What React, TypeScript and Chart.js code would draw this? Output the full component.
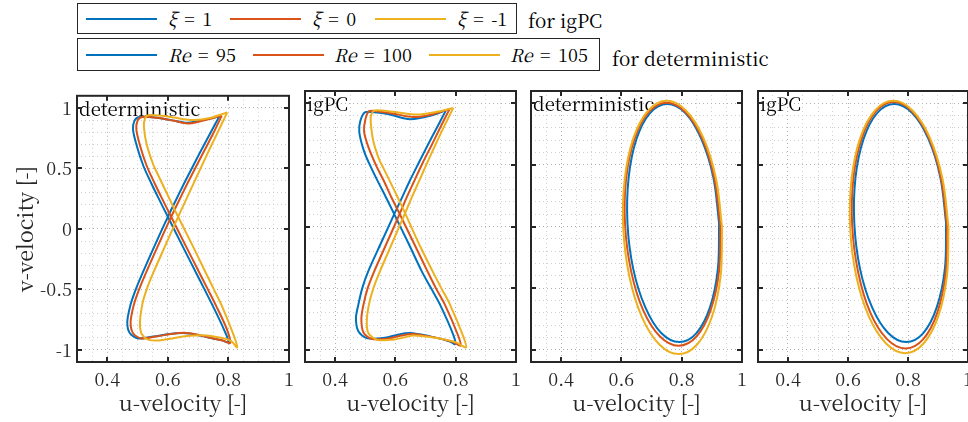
import React, { useEffect, useRef } from 'react';
import { Chart, registerables } from 'chart.js';

Chart.register(...registerables);

// ---------- axes ----------
const X_MIN = 0.3;
const X_MAX = 1;
const Y_MIN = -1.1;
const Y_MAX = 1.1;
const X_MINOR_STEP = 0.05;
const Y_MINOR_STEP = 0.1;
const X_TICKS = [0.4, 0.6, 0.8, 1];
const Y_TICKS = [-1, -0.5, 0, 0.5, 1];

const X_TITLE = 'u-velocity [-]';
const Y_TITLE = 'v-velocity [-]';
const PANEL_LABELS = ['deterministic', 'igPC', 'deterministic', 'igPC'];

const COLORS = ['#0072BD', '#D95319', '#EDB120'];
const XI_LABELS = ['1', '0', '-1'];
const RE_LABELS = ['95', '100', '105'];

// ---------- panel 1 : deterministic, figure-eight ----------
const det8_re95_u = [0.770,0.740,0.710,0.681,0.653,0.626,0.600,0.558,0.517,0.491,0.476,0.466,0.474,0.502,0.552,0.605,0.651,0.690,0.735,0.775,0.800,0.785,0.748,0.721,0.693,0.646,0.600,0.572,0.546,0.519,0.497,0.485,0.490,0.506,0.560,0.615,0.662,0.700,0.740,0.770];
const det8_re95_v = [0.930,0.790,0.650,0.510,0.373,0.235,0.100,-0.130,-0.362,-0.520,-0.634,-0.770,-0.860,-0.905,-0.890,-0.868,-0.860,-0.872,-0.898,-0.918,-0.935,-0.830,-0.634,-0.500,-0.362,-0.130,0.100,0.240,0.373,0.522,0.690,0.820,0.895,0.925,0.920,0.897,0.877,0.890,0.912,0.930];
const det8_re100_u = [0.778,0.750,0.721,0.692,0.664,0.637,0.611,0.569,0.528,0.502,0.487,0.477,0.485,0.512,0.560,0.610,0.655,0.695,0.740,0.782,0.806,0.795,0.759,0.732,0.704,0.657,0.611,0.583,0.557,0.530,0.508,0.496,0.500,0.515,0.565,0.620,0.665,0.705,0.748,0.778];
const det8_re100_v = [0.937,0.790,0.650,0.510,0.373,0.235,0.100,-0.130,-0.362,-0.520,-0.634,-0.770,-0.862,-0.905,-0.890,-0.868,-0.858,-0.872,-0.900,-0.922,-0.942,-0.830,-0.634,-0.500,-0.362,-0.130,0.100,0.240,0.373,0.522,0.690,0.820,0.895,0.925,0.918,0.893,0.872,0.888,0.915,0.937];
const det8_re105_u = [0.796,0.765,0.736,0.708,0.682,0.658,0.634,0.593,0.552,0.530,0.516,0.508,0.513,0.535,0.570,0.615,0.662,0.728,0.775,0.808,0.829,0.816,0.778,0.752,0.725,0.680,0.634,0.609,0.585,0.567,0.552,0.530,0.521,0.524,0.535,0.580,0.620,0.684,0.739,0.796];
const det8_re105_v = [0.963,0.800,0.650,0.500,0.360,0.230,0.100,-0.130,-0.362,-0.500,-0.620,-0.770,-0.865,-0.915,-0.922,-0.905,-0.886,-0.880,-0.900,-0.925,-0.980,-0.870,-0.634,-0.500,-0.362,-0.130,0.100,0.230,0.355,0.450,0.530,0.700,0.840,0.910,0.940,0.935,0.920,0.900,0.917,0.963];

// ---------- panel 2 : igPC, figure-eight ----------
const pc8_xi1_u = [0.768,0.737,0.707,0.677,0.648,0.621,0.596,0.553,0.510,0.490,0.477,0.469,0.477,0.505,0.560,0.605,0.648,0.715,0.781,0.798,0.792,0.748,0.718,0.687,0.642,0.596,0.568,0.545,0.521,0.497,0.480,0.484,0.500,0.540,0.582,0.648,0.715,0.768];
const pc8_xi1_v = [0.945,0.800,0.660,0.515,0.373,0.230,0.100,-0.130,-0.362,-0.500,-0.634,-0.743,-0.851,-0.906,-0.906,-0.880,-0.865,-0.892,-0.933,-0.955,-0.879,-0.634,-0.500,-0.362,-0.130,0.100,0.240,0.350,0.470,0.604,0.767,0.860,0.928,0.925,0.909,0.871,0.898,0.945];
const pc8_xi0_u = [0.780,0.750,0.721,0.691,0.663,0.637,0.614,0.572,0.530,0.508,0.494,0.487,0.494,0.520,0.575,0.620,0.655,0.725,0.792,0.816,0.808,0.764,0.734,0.706,0.660,0.614,0.587,0.561,0.537,0.511,0.496,0.500,0.513,0.555,0.590,0.660,0.725,0.780];
const pc8_xi0_v = [0.955,0.810,0.665,0.520,0.373,0.235,0.102,-0.130,-0.362,-0.500,-0.634,-0.750,-0.860,-0.912,-0.910,-0.885,-0.873,-0.898,-0.938,-0.968,-0.885,-0.634,-0.500,-0.362,-0.130,0.102,0.235,0.373,0.490,0.640,0.770,0.865,0.936,0.930,0.918,0.888,0.912,0.955];
const pc8_xim1_u = [0.792,0.762,0.734,0.706,0.679,0.655,0.632,0.590,0.549,0.527,0.512,0.505,0.510,0.538,0.593,0.630,0.659,0.737,0.803,0.834,0.825,0.781,0.752,0.723,0.676,0.632,0.605,0.583,0.561,0.545,0.526,0.518,0.519,0.530,0.593,0.671,0.737,0.792];
const pc8_xim1_v = [0.963,0.815,0.670,0.520,0.373,0.240,0.109,-0.130,-0.362,-0.500,-0.634,-0.770,-0.865,-0.919,-0.919,-0.900,-0.884,-0.906,-0.943,-0.982,-0.892,-0.634,-0.500,-0.362,-0.130,0.109,0.250,0.360,0.470,0.550,0.700,0.849,0.900,0.942,0.931,0.909,0.931,0.963];

// ---------- panel 3 : deterministic, ellipse ----------
const detE_re95_u = [0.924,0.905,0.865,0.812,0.752,0.695,0.650,0.624,0.620,0.639,0.679,0.732,0.792,0.849,0.894,0.920,0.924];
const detE_re95_v = [0.028,0.398,0.711,0.921,0.994,0.921,0.711,0.398,0.028,-0.342,-0.655,-0.865,-0.938,-0.865,-0.655,-0.342,0.028];
const detE_re100_u = [0.928,0.908,0.868,0.812,0.750,0.691,0.644,0.616,0.612,0.632,0.672,0.728,0.790,0.849,0.896,0.924,0.928];
const detE_re100_v = [0.018,0.396,0.715,0.929,1.004,0.929,0.715,0.396,0.018,-0.360,-0.679,-0.893,-0.968,-0.893,-0.679,-0.360,0.018];
const detE_re105_u = [0.934,0.914,0.872,0.814,0.750,0.689,0.640,0.611,0.606,0.626,0.668,0.726,0.790,0.851,0.900,0.929,0.934];
const detE_re105_v = [-0.008,0.386,0.719,0.942,1.020,0.942,0.719,0.386,-0.008,-0.402,-0.735,-0.958,-1.036,-0.958,-0.735,-0.402,-0.008];

// ---------- panel 4 : igPC, ellipse ----------
const pcE_xi1_u = [0.927,0.908,0.868,0.814,0.754,0.697,0.652,0.625,0.621,0.640,0.680,0.734,0.794,0.851,0.896,0.923,0.927];
const pcE_xi1_v = [0.028,0.398,0.711,0.921,0.994,0.921,0.711,0.398,0.028,-0.342,-0.655,-0.865,-0.938,-0.865,-0.655,-0.342,0.028];
const pcE_xi0_u = [0.930,0.910,0.870,0.814,0.752,0.693,0.646,0.618,0.614,0.634,0.674,0.730,0.792,0.851,0.898,0.926,0.930];
const pcE_xi0_v = [0.010,0.393,0.717,0.934,1.010,0.934,0.717,0.393,0.010,-0.373,-0.697,-0.914,-0.990,-0.914,-0.697,-0.373,0.010];
const pcE_xim1_u = [0.935,0.915,0.873,0.815,0.751,0.690,0.641,0.612,0.607,0.627,0.669,0.727,0.791,0.852,0.901,0.930,0.935];
const pcE_xim1_v = [-0.004,0.388,0.720,0.942,1.020,0.942,0.720,0.388,-0.004,-0.396,-0.728,-0.950,-1.028,-0.950,-0.728,-0.396,-0.004];

const FONT = '"Noto Serif CJK SC", "Liberation Serif", serif';
const AXIS_COLOR = '#262626';

type Curve = { u: number[]; v: number[]; color: string; label: string; order: number };

const isOn = (val: number, list: number[]) => list.some((m) => Math.abs(m - val) < 1e-6);

interface PanelProps {
  left: number;
  width: number;
  yAxisW: number;
  rightPad: number;
  label: string;
  curves: Curve[];
  showY: boolean;
  tension: number;
}

function Panel({ left, width, yAxisW, rightPad, label, curves, showY, tension }: PanelProps) {
  const ref = useRef<HTMLCanvasElement | null>(null);
  useEffect(() => {
    const canvas = ref.current;
    if (!canvas) return;
    const frame = {
      id: 'frame',
      beforeDatasetsDraw(chart: any) {
        const { ctx, chartArea } = chart;
        ctx.save();
        ctx.font = `18.5px ${FONT}`;
        ctx.fillStyle = '#000';
        ctx.textBaseline = 'alphabetic';
        ctx.textAlign = 'left';
        ctx.fillText(label, chartArea.left + 2, chartArea.top + 20);
        ctx.restore();
      },
      afterDraw(chart: any) {
        const { ctx, chartArea } = chart;
        const { left: l, right: r, top: t, bottom: b } = chartArea;
        const xs = chart.scales.x;
        const ys = chart.scales.y;
        ctx.save();
        ctx.strokeStyle = AXIS_COLOR;
        ctx.lineWidth = 2;
        ctx.beginPath();
        X_TICKS.forEach((v) => {
          const p = Math.round(xs.getPixelForValue(v));
          ctx.moveTo(p, b);
          ctx.lineTo(p, b - 5);
          ctx.moveTo(p, t);
          ctx.lineTo(p, t + 5);
        });
        Y_TICKS.forEach((v) => {
          const p = Math.round(ys.getPixelForValue(v));
          ctx.moveTo(l, p);
          ctx.lineTo(l + 5, p);
          ctx.moveTo(r, p);
          ctx.lineTo(r - 5, p);
        });
        ctx.stroke();
        ctx.strokeRect(l, t, r - l, b - t);
        ctx.restore();
      },
    };

    const chart = new Chart(canvas, {
      type: 'line',
      data: {
        datasets: curves.map((c) => ({
          label: c.label,
          data: c.u.map((x, i) => ({ x, y: c.v[i] })),
          borderColor: c.color,
          backgroundColor: c.color,
          borderWidth: 2,
          pointRadius: 0,
          pointHoverRadius: 0,
          tension,
          fill: false,
          order: c.order,
        })),
      },
      options: {
        responsive: false,
        animation: false,
        devicePixelRatio: 1,
        events: [],
        layout: { padding: { left: 0, right: rightPad, top: 11, bottom: 0 } },
        plugins: { legend: { display: false }, tooltip: { enabled: false } },
        scales: {
          x: {
            type: 'linear',
            min: X_MIN,
            max: X_MAX,
            afterFit: (s: any) => {
              s.height = 60;
            },
            ticks: {
              stepSize: X_MINOR_STEP,
              maxTicksLimit: 100,
              autoSkip: false,
              maxRotation: 0,
              padding: 6,
              color: AXIS_COLOR,
              font: { family: FONT, size: 18 },
              callback: (val: any) => {
                const n = Number(val);
                const m = X_TICKS.find((t) => Math.abs(t - n) < 1e-6);
                return m === undefined ? '' : String(m);
              },
            },
            grid: {
              drawTicks: false,
              lineWidth: 1,
              color: (c: any) => (c.tick && isOn(c.tick.value, X_TICKS) ? '#b0b0b0' : '#d0d0d0'),
            },
            border: { display: false, dash: [1, 3] },
            title: {
              display: true,
              text: X_TITLE,
              color: AXIS_COLOR,
              font: { family: FONT, size: 21.5 },
              padding: { top: 0, bottom: 6 },
            },
          },
          y: {
            type: 'linear',
            min: Y_MIN,
            max: Y_MAX,
            afterFit: (s: any) => {
              s.width = yAxisW;
            },
            ticks: {
              display: showY,
              stepSize: Y_MINOR_STEP,
              maxTicksLimit: 100,
              autoSkip: false,
              padding: 5,
              color: AXIS_COLOR,
              font: { family: FONT, size: 18 },
              callback: (val: any) => {
                const n = Number(val);
                const m = Y_TICKS.find((t) => Math.abs(t - n) < 1e-6);
                return m === undefined ? '' : String(m);
              },
            },
            grid: {
              drawTicks: false,
              lineWidth: 1,
              color: (c: any) => (c.tick && isOn(c.tick.value, Y_TICKS) ? '#b0b0b0' : '#d0d0d0'),
            },
            border: { display: false, dash: [1, 3] },
            title: {
              display: showY,
              text: Y_TITLE,
              color: AXIS_COLOR,
              font: { family: FONT, size: 21.5 },
              padding: { top: 12, bottom: 0 },
            },
          },
        },
      } as any,
      plugins: [frame],
    });
    return () => chart.destroy();
  }, []);
  return (
    <canvas
      ref={ref}
      width={width}
      height={342}
      style={{ position: 'absolute', left, top: 80, width, height: 342 }}
    />
  );
}

const mk = (u: number[], v: number[], k: number, label: string): Curve => ({
  u,
  v,
  color: COLORS[k],
  label,
  order: 2 - k,
});

const legendText: React.CSSProperties = {
  position: 'absolute',
  fontFamily: FONT,
  fontSize: 18,
  color: '#000',
  whiteSpace: 'nowrap',
};

const eq: React.CSSProperties = { margin: '0 0.42em' };

function LegLine({ left, top, color }: { left: number; top: number; color: string }) {
  return <div style={{ position: 'absolute', left, top, width: 71, height: 2, background: color }} />;
}

export default function App() {
  const p1 = [
    mk(det8_re95_u, det8_re95_v, 0, 'Re = ' + RE_LABELS[0]),
    mk(det8_re100_u, det8_re100_v, 1, 'Re = ' + RE_LABELS[1]),
    mk(det8_re105_u, det8_re105_v, 2, 'Re = ' + RE_LABELS[2]),
  ];
  const p2 = [
    mk(pc8_xi1_u, pc8_xi1_v, 0, 'ξ = ' + XI_LABELS[0]),
    mk(pc8_xi0_u, pc8_xi0_v, 1, 'ξ = ' + XI_LABELS[1]),
    mk(pc8_xim1_u, pc8_xim1_v, 2, 'ξ = ' + XI_LABELS[2]),
  ];
  const p3 = [
    mk(detE_re95_u, detE_re95_v, 0, 'Re = ' + RE_LABELS[0]),
    mk(detE_re100_u, detE_re100_v, 1, 'Re = ' + RE_LABELS[1]),
    mk(detE_re105_u, detE_re105_v, 2, 'Re = ' + RE_LABELS[2]),
  ];
  const p4 = [
    mk(pcE_xi1_u, pcE_xi1_v, 0, 'ξ = ' + XI_LABELS[0]),
    mk(pcE_xi0_u, pcE_xi0_v, 1, 'ξ = ' + XI_LABELS[1]),
    mk(pcE_xim1_u, pcE_xim1_v, 2, 'ξ = ' + XI_LABELS[2]),
  ];

  const xiLeft = [168, 312, 457];
  const xiLine = [86, 230, 375];
  const reLeft = [168, 334, 510];
  const reLine = [86, 253, 429];

  return (
    <div
      style={{
        position: 'fixed',
        left: 0,
        top: 0,
        width: 968,
        height: 422,
        overflow: 'hidden',
        background: '#fff',
        fontFamily: FONT,
      }}
    >
      {/* legend 1 : igPC */}
      <div
        style={{
          position: 'absolute',
          left: 77,
          top: 3,
          width: 440,
          height: 31,
          boxSizing: 'border-box',
          border: '1.5px solid #262626',
        }}
      />
      {XI_LABELS.map((t, i) => (
        <React.Fragment key={'xi' + i}>
          <LegLine left={xiLine[i]} top={18} color={COLORS[i]} />
          <span style={{ ...legendText, left: xiLeft[i], top: 3, lineHeight: '31px' }}>
            <i>ξ</i>
            <span style={eq}>=</span>
            {t}
          </span>
        </React.Fragment>
      ))}
      <span style={{ ...legendText, fontSize: 19, left: 528, top: 4, lineHeight: '31px' }}>for igPC</span>

      {/* legend 2 : deterministic */}
      <div
        style={{
          position: 'absolute',
          left: 77,
          top: 38,
          width: 523,
          height: 33,
          boxSizing: 'border-box',
          border: '1.5px solid #262626',
        }}
      />
      {RE_LABELS.map((t, i) => (
        <React.Fragment key={'re' + i}>
          <LegLine left={reLine[i]} top={54} color={COLORS[i]} />
          <span style={{ ...legendText, left: reLeft[i], top: 38, lineHeight: '33px' }}>
            <i>Re</i>
            <span style={eq}>=</span>
            {t}
          </span>
        </React.Fragment>
      ))}
      <span style={{ ...legendText, fontSize: 19, left: 612, top: 41, lineHeight: '33px' }}>for deterministic</span>

      <Panel left={0} width={300} yAxisW={77} rightPad={11} label={PANEL_LABELS[0]} curves={p1} showY={true} tension={0.3} />
      <Panel left={295} width={232} yAxisW={10} rightPad={11} label={PANEL_LABELS[1]} curves={p2} showY={false} tension={0.3} />
      <Panel left={521} width={232} yAxisW={10} rightPad={11} label={PANEL_LABELS[2]} curves={p3} showY={false} tension={0.35} />
      <Panel left={748} width={232} yAxisW={10} rightPad={12} label={PANEL_LABELS[3]} curves={p4} showY={false} tension={0.35} />
    </div>
  );
}
